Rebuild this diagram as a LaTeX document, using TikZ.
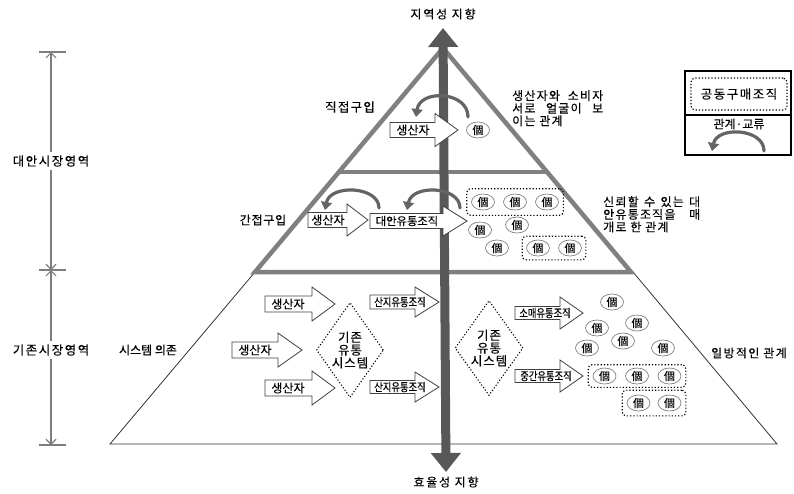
\documentclass[tikz,border=0pt]{standalone}
\usepackage{fontspec}
\usepackage{graphicx}
\setmainfont{Noto Sans CJK KR}[FakeBold=0.15]
\usetikzlibrary{arrows.meta,shapes.geometric,fit}

\definecolor{pyrgray}{RGB}{128,128,128}
\definecolor{axisgray}{RGB}{88,88,88}
\definecolor{relgray}{RGB}{100,100,100}
\definecolor{dimgray}{RGB}{125,125,125}

% letter spacing for the wide labels
\newcommand{\ls}[1]{\addfontfeature{LetterSpace=#1}}
% narrow (squeezed) labels inside small block arrows
\newcommand{\sq}[1]{\scalebox{0.81}[1]{#1}}
\newcommand{\fs}[1]{\fontsize{#1}{12.6}\selectfont}

\tikzset{
  pyr/.style={draw=pyrgray, line width=4.5pt, line join=miter},
  thinedge/.style={draw=black!80, line width=0.8pt},
  axisarrow/.style={draw=axisgray, line width=9pt,
    arrows={Triangle[length=19pt,width=29pt]-Triangle[length=19pt,width=29pt]}},
  dimline/.style={draw=dimgray, line width=1.1pt,
    arrows={Straight Barb[length=5pt,width=10pt]-Straight Barb[length=5pt,width=10pt]}},
  dimtick/.style={draw=dimgray, line width=1.1pt},
  dimlabel/.style={fill=white, inner xsep=1pt, inner ysep=3pt, font=\fs{12.5}\ls{12}},
  relarrow/.style={draw=relgray, line width=3.2pt, line cap=round,
    arrows={-Triangle[length=8pt,width=11pt]}},
  barrow/.style={draw=black!75, line width=0.8pt, fill=white, line join=miter},
  btext/.style={inner sep=0pt, font=\fs{12}},
  ko/.style={ellipse, draw=black!50, line width=0.7pt, fill=white,
    minimum width=23pt, minimum height=16pt, inner sep=0pt,
    font=\fontsize{11}{12}\selectfont},
  grp/.style={draw=black, dotted, line width=1.2pt, rounded corners=4pt},
  sysdia/.style={diamond, draw=black, dotted, line width=1.1pt,
    inner sep=0pt, minimum width=#1, minimum height=95pt},
  label/.style={inner sep=0pt, font=\fs{12}},
  note/.style={inner sep=0pt, align=left, font=\fs{12}\ls{10}},
}

% block arrow: name, x left, y centre, x head base, x tip,
% half body height, half head height, x of text centre, text
\newcommand{\blockarrow}[9]{%
  \draw[barrow] (#2,#3-#6) -- (#4,#3-#6) -- (#4,#3-#7) -- (#5,#3)
     -- (#4,#3+#7) -- (#4,#3+#6) -- (#2,#3+#6) -- cycle;
  \node[btext] (#1) at (#8,#3) {#9};}

\begin{document}
\begin{tikzpicture}[x=1pt,y=-1pt]
\useasboundingbox (0,0) rectangle (794,493);

% ---------- outline of the pyramid ----------
\coordinate (apex) at (443,48);
\coordinate (pl) at (255,272);
\coordinate (pr) at (631,272);
\coordinate (tl) at (340,172);
\coordinate (tr) at (546,172);
\coordinate (bl) at (110,444);
\coordinate (br) at (777,444);
\coordinate (ur) at (633,272);

\draw[thinedge] (pl) -- (bl) -- (br) -- (ur);
\draw[pyr] (pl) -- (apex) -- (pr) -- cycle;
\draw[pyr] (tl) -- (tr);

% ---------- vertical orientation axis ----------
\coordinate (axtop) at (443,28);
\coordinate (axbot) at (446,472);
\draw[axisarrow] (axbot) -- (axtop);
\node[label, font=\fs{12}\ls{15}] (regional) at (443,14) {지역성 지향};
\node[label, font=\fs{12}\ls{15}] (efficiency) at (446,482) {효율성 지향};

% ---------- market areas on the left ----------
\coordinate (m1) at (51,52);
\coordinate (m2) at (51,270);
\coordinate (m3) at (51,445);
\draw[dimtick] (39,52) -- (66,52);
\draw[dimtick] (39,270) -- (66,270);
\draw[dimtick] (39,445) -- (66,445);
\draw[dimline] (m1) -- (m2);
\draw[dimline] (m2) -- (m3);
\node[dimlabel] (altmarket) at (51,161) {대안시장영역};
\node[dimlabel] (oldmarket) at (51,350) {기존시장영역};

% ---------- top tier: direct purchase ----------
\node[label, font=\fs{12.5}\ls{10}] (direct) at (350,107) {직접구입};
\blockarrow{prodA}{390}{130}{435}{458}{7.5}{16.5}{413}{생산자}
\node[ko] (kA) at (478,130) {個};
\coordinate (rA1) at (468,117);
\coordinate (rA2) at (416,117);
\draw[relarrow] (rA1) .. controls (468,91) and (420,89) .. (rA2);
\node[note, anchor=north west] (faceNote) at (512,90)
  {\makebox[91pt][s]{생산자와 소비자}\\\makebox[91pt][s]{서로 얼굴이 보}\\이는 관계};

% ---------- middle tier: indirect purchase ----------
\node[label, font=\fs{12}\ls{6}] (indirect) at (263,220) {간접구입};
\blockarrow{prodB}{308}{220}{347}{368}{7.5}{16}{328}{생산자}
\blockarrow{altorg}{370}{221}{443}{467}{7.5}{15}{407}{\fs{11.3}대안유통조직}
\coordinate (rB1) at (379,208);
\coordinate (rB2) at (325,210);
\draw[relarrow] (rB1) .. controls (379,186) and (330,184) .. (rB2);
\coordinate (rC1) at (460,208);
\coordinate (rC2) at (407,210);
\draw[relarrow] (rC1) .. controls (460,186) and (412,184) .. (rC2);

\node[ko] (b1) at (483,202) {個};
\node[ko] (b2) at (515,202) {個};
\node[ko] (b3) at (547,202) {個};
\node[grp, fit=(b1)(b3), inner xsep=4.5pt, inner ysep=5pt] (grpB) {};
\node[ko] (b4) at (480,230) {個};
\node[ko] (b5) at (517,225) {個};
\node[ko] (b6) at (497,248) {個};
\node[ko] (b7) at (538,248) {個};
\node[ko] (b8) at (570,248) {個};
\node[grp, fit=(b7)(b8), inner xsep=4pt, inner ysep=3.5pt] (grpC) {};
\node[note, anchor=north west] (trustNote) at (603,196)
  {\makebox[97pt][s]{신뢰할 수 있는 대}\\\makebox[97pt][s]{안유통조직을 매}\\개로 한 관계};

% ---------- bottom tier: conventional system ----------
\node[label] (depend) at (148,350) {시스템 의존};
\blockarrow{prodC}{265}{304}{312}{335}{8}{17}{288}{생산자}
\blockarrow{prodD}{232}{350}{278}{302}{8}{17}{255}{생산자}
\blockarrow{prodE}{265}{388}{312}{335}{8}{17}{288}{생산자}

\node[sysdia=67pt] (sysA) at (350,350) {};
\node[label, align=center, font=\fontsize{12.5}{12.8}\selectfont\ls{7}] (sysAtext) at (sysA.center) {기존\\유통\\시스템};

\blockarrow{originA}{370}{302}{415}{439}{7}{15}{400}{\fs{11.5}\sq{산지유통조직}}
\blockarrow{originB}{370}{387}{415}{439}{6.5}{15}{400}{\fs{11.5}\sq{산지유통조직}}

\node[sysdia=68pt] (sysB) at (489,348) {};
\node[label, align=center, font=\fontsize{12.5}{12.8}\selectfont\ls{7}] (sysBtext) at (sysB.center) {기존\\유통\\시스템};

\blockarrow{retail}{515}{313}{560}{583}{6.5}{16}{545}{\fs{11.5}\sq{소매유통조직}}
\blockarrow{middle}{515}{376}{560}{583}{6.5}{16}{546}{\fs{11.5}\sq{중간유통조직}}

\node[ko] (c1) at (612,302) {個};
\node[ko] (c2) at (597,328) {個};
\node[ko] (c3) at (637,323) {個};
\node[ko] (c4) at (623,341) {個};
\node[ko] (c5) at (587,348) {個};
\node[ko] (c6) at (663,348) {個};
\node[ko] (c7) at (604.5,376) {個};
\node[ko] (c8) at (637,376) {個};
\node[ko] (c9) at (669.5,376) {個};
\node[grp, fit=(c7)(c9), inner xsep=4.5pt, inner ysep=3pt] (grpD) {};
\node[ko] (c10) at (638.5,403) {個};
\node[ko] (c11) at (669.5,403) {個};
\node[grp, fit=(c10)(c11), inner xsep=4.5pt, inner ysep=4.5pt] (grpE) {};

\node[label, font=\fs{12}\ls{11}] (oneway) at (749,353) {일방적인 관계};

% ---------- legend ----------
\draw[black, line width=1.5pt] (685,71) rectangle (791,155);
\draw[black, line width=1.2pt] (685,115) -- (791,115);
\node[grp, minimum width=96pt, minimum height=32pt, inner sep=0pt,
      font=\fs{12.5}\ls{12}] (coop) at (739,94) {공동구매조직};
\node[label] (relLabel) at (739,124) {관계·교류};
\coordinate (rL1) at (764,151);
\coordinate (rL2) at (712,151);
\draw[relarrow] (rL1) .. controls (764,128) and (717,126) .. (rL2);

\end{tikzpicture}
\end{document}
